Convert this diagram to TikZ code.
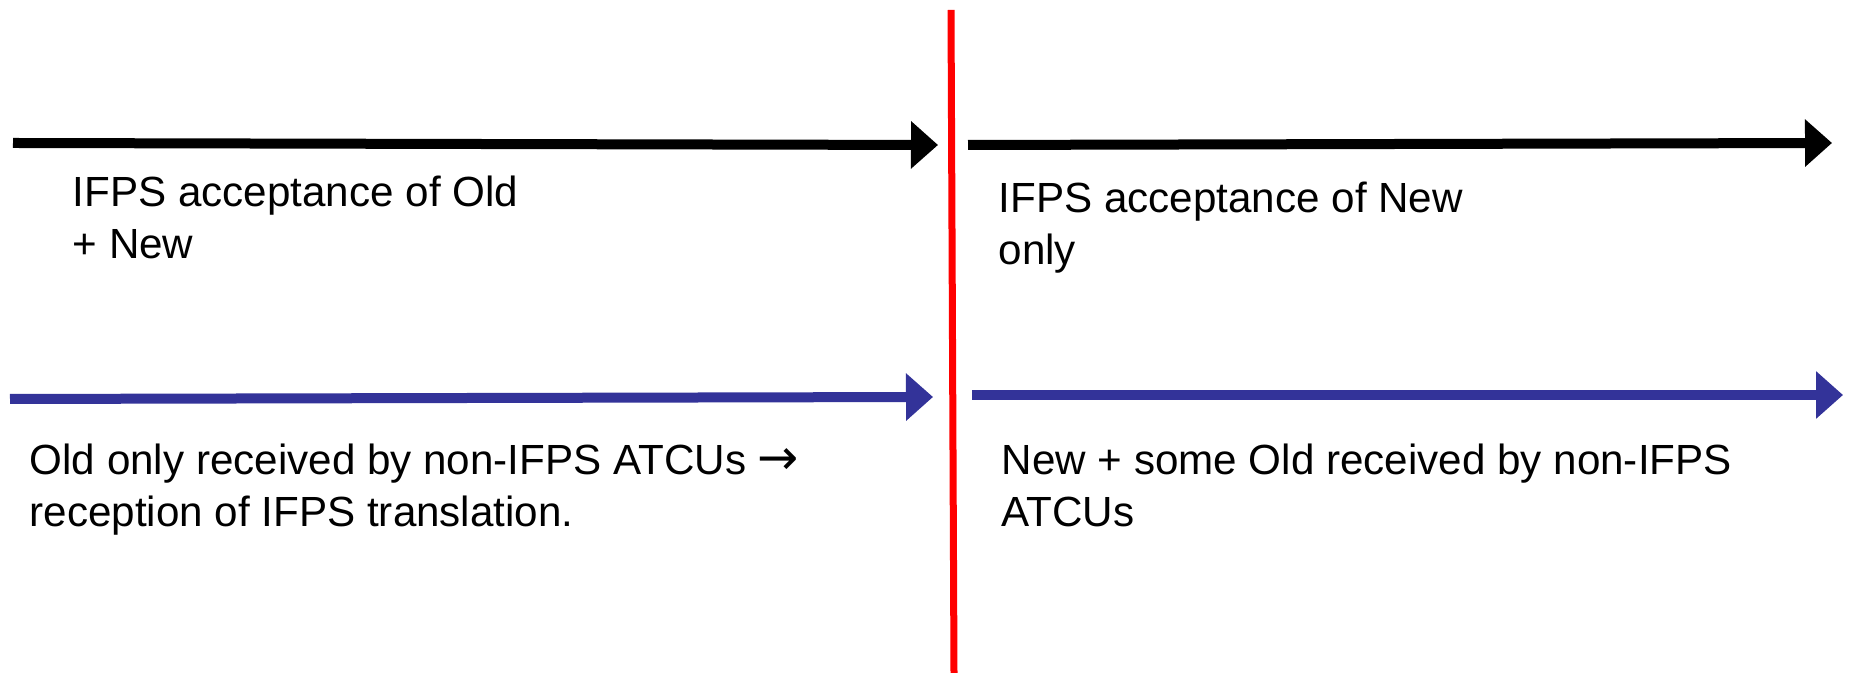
\documentclass[tikz,border=0pt]{standalone}
\usepackage{fontspec}
\setmainfont{Liberation Sans}
\newfontfamily\arrowfont{DejaVu Sans}
\usetikzlibrary{positioning, arrows.meta}
\definecolor{oldcolor}{RGB}{0, 0, 0}
\definecolor{newcolor}{RGB}{51, 51, 153}
\definecolor{cutcolor}{RGB}{255, 0, 0}

\begin{document}
\begin{tikzpicture}[
    phase/.style={line width=0.1cm, -{Triangle[length=0.27cm, width=0.46cm]}},
    ifps/.style={phase, draw=oldcolor, color=oldcolor},
    atcu/.style={phase, draw=newcolor, color=newcolor},
    cutover/.style={line width=0.07cm, draw=cutcolor},
    note/.style={anchor=base west, inner sep=0pt, align=left, font=\fontsize{12}{15}\selectfont},
]
\useasboundingbox (0, 0) rectangle (18.5, 6.73);

% Cut-over line
\coordinate (cuttop) at (9.51, 6.63);
\coordinate (cutbottom) at (9.54, 0);
\draw[cutover] (cuttop) -- (cutbottom);

% IFPS arrows
\coordinate (ifpsA) at (0.13, 5.30);
\coordinate (ifpsB) at (9.38, 5.28);
\coordinate (ifpsC) at (9.68, 5.28);
\coordinate (ifpsD) at (18.32, 5.30);
\draw[ifps] (ifpsA) -- (ifpsB);
\draw[ifps] (ifpsC) -- (ifpsD);

% ATCU arrows
\coordinate (atcuA) at (0.10, 2.74);
\coordinate (atcuB) at (9.33, 2.76);
\coordinate (atcuC) at (9.72, 2.78);
\coordinate (atcuD) at (18.43, 2.78);
\draw[atcu] (atcuA) -- (atcuB);
\draw[atcu] (atcuC) -- (atcuD);

% Labels (base = last line)
\node[note] (ifpsold) at (0.72, 4.14) {IFPS acceptance of Old\\+ New};
\node[note] (ifpsnew) at (9.98, 4.08) {IFPS acceptance of New\\only};
\node[note] (atcuold) at (0.29, 1.46) {Old only received by non-IFPS ATCUs {\arrowfont\fontsize{14}{15}\selectfont →}\\reception of IFPS translation.};
\node[note] (atcunew) at (10.01, 1.46) {New + some Old received by non-IFPS\\ATCUs};

\end{tikzpicture}
\end{document}
